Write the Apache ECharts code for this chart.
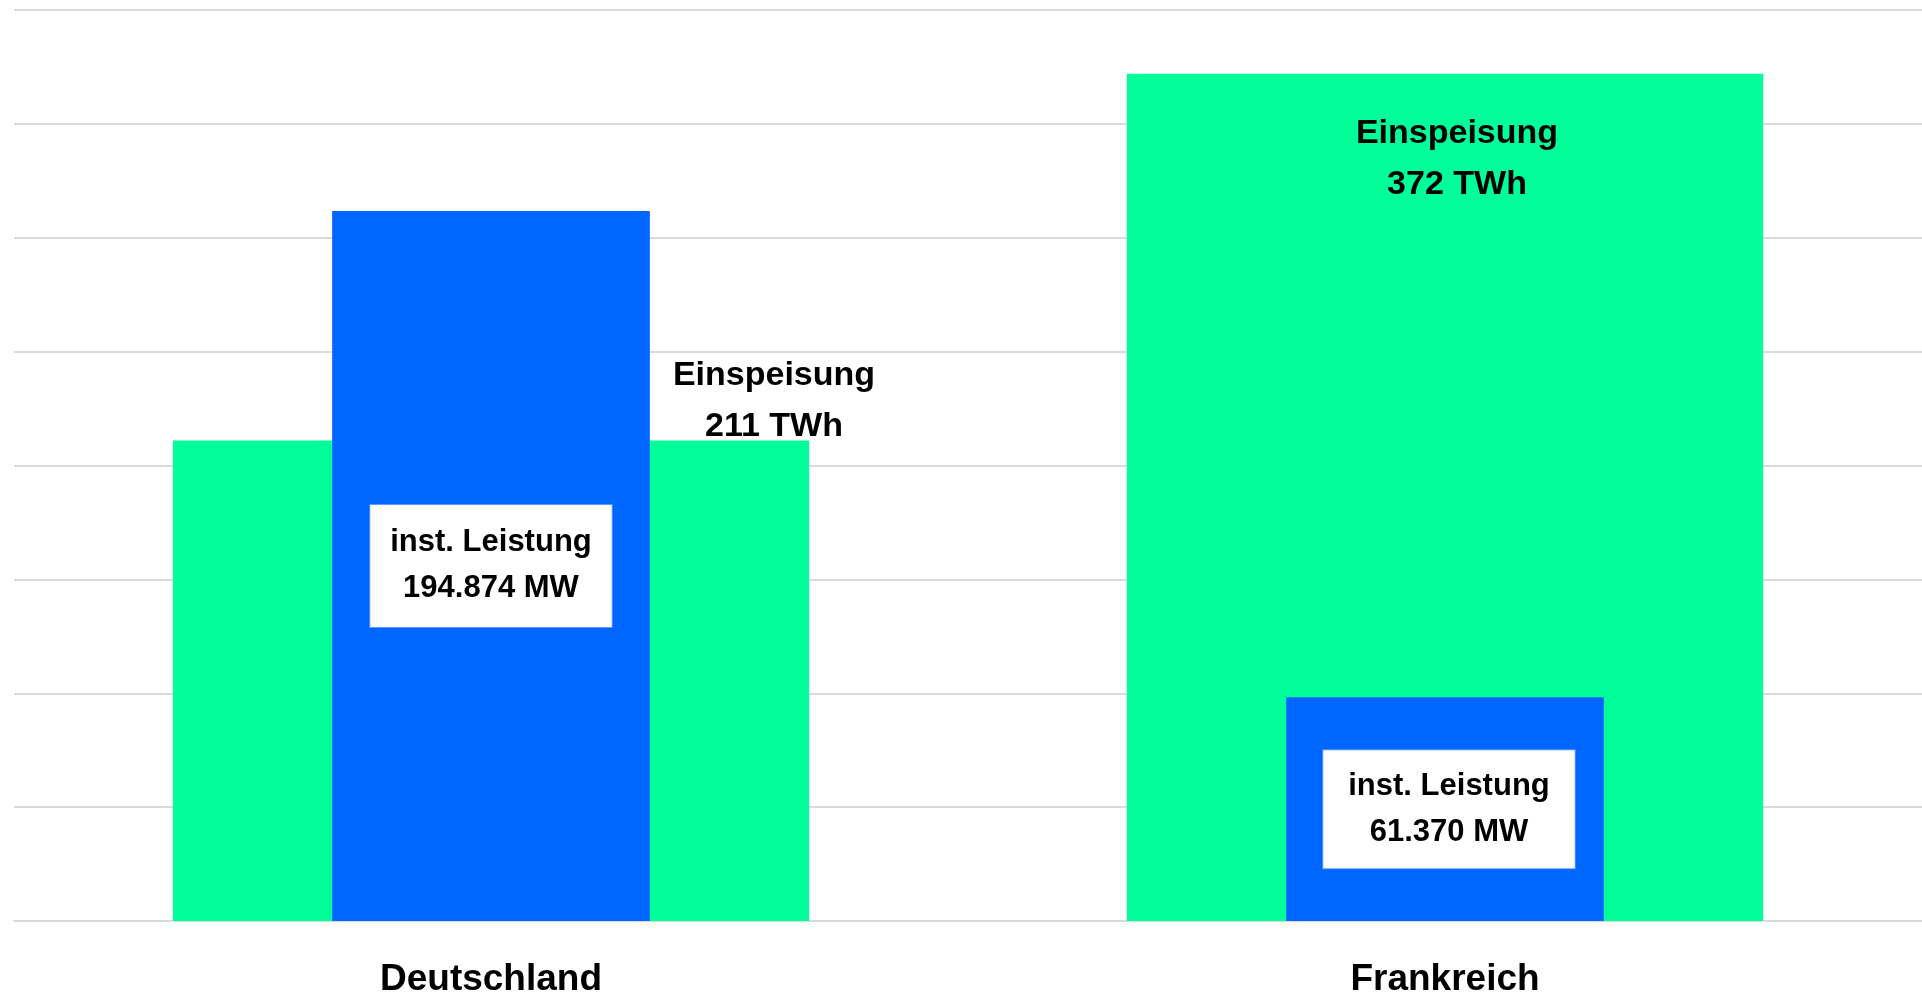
<!DOCTYPE html>
<html>
<head>
<meta charset="utf-8">
<script src="https://cdn.jsdelivr.net/npm/echarts@6/dist/echarts.min.js"></script>
<style>
    html, body { margin: 0; padding: 0; background: #fff; }
    #chart { width: 1922px; height: 995px; }
</style>
</head>
<body>
<div id="chart"></div>
<script>
    // Daten
    var countries = ['Deutschland', 'Frankreich'];
    var einspeisungTWh = [211, 372];        // grüne Balken
    var leistungMW = [194874, 61370];       // blaue Balken

    var fontFam = 'Liberation Sans, Arial, sans-serif';

    function fmtMW(v) {
        return String(v).replace(/\B(?=(\d{3})+(?!\d))/g, '.') + ' MW';
    }

    // Label-Position je Land (Deutschland rechts über dem Balken, Frankreich innen oben)
    var greenLabels = [
        { position: 'top', distance: 0, offset: [283, 12] },
        { position: 'insideTop', distance: 34, offset: [12, 0] }
    ];
    var blueLabels = [
        { offset: [0, 0], padding: [15, 20] },
        { offset: [4, 0], padding: [13, 25] }
    ];

    var greenData = einspeisungTWh.map(function (v, i) {
        return { value: v, label: greenLabels[i] };
    });
    var blueData = leistungMW.map(function (v, i) {
        return { value: v, label: blueLabels[i] };
    });

    var chart = echarts.init(document.getElementById('chart'));
    var option = {
        animation: false,
        grid: { left: 14, right: 0, top: 10, bottom: 74, containLabel: false, outerBoundsMode: 'none' },
        xAxis: [{
            type: 'category',
            data: countries,
            axisLine: { show: true, lineStyle: { color: '#d9d9d9', width: 2 } },
            axisTick: { show: false },
            axisLabel: {
                margin: 40,
                color: '#000',
                fontWeight: 'bold',
                fontSize: 37,
                fontFamily: fontFam
            }
        }, {
            type: 'category',
            data: countries,
            show: false
        }],
        yAxis: [{
            type: 'value',
            min: 0,
            max: 400,
            interval: 50,
            axisLabel: { show: false },
            axisLine: { show: false },
            axisTick: { show: false },
            splitLine: { lineStyle: { color: '#d9d9d9', width: 2 } }
        }, {
            type: 'value',
            min: 0,
            max: 250000,
            interval: 31250,
            show: false,
            splitLine: { show: false }
        }],
        series: [{
            name: 'Einspeisung',
            type: 'bar',
            xAxisIndex: 0,
            yAxisIndex: 0,
            barWidth: '66.7%',
            itemStyle: { color: '#00ff99' },
            data: greenData,
            label: {
                show: true,
                color: '#000',
                fontWeight: 'bold',
                fontSize: 34,
                lineHeight: 51,
                fontFamily: fontFam,
                formatter: function (p) {
                    return 'Einspeisung\n' + p.value + ' TWh';
                }
            }
        }, {
            name: 'inst. Leistung',
            type: 'bar',
            xAxisIndex: 1,
            yAxisIndex: 1,
            barWidth: '33.3%',
            itemStyle: { color: '#0066ff' },
            data: blueData,
            label: {
                show: true,
                position: 'inside',
                color: '#000',
                fontWeight: 'bold',
                fontSize: 31,
                lineHeight: 46,
                fontFamily: fontFam,
                backgroundColor: '#fff',
                borderColor: '#5a96ff',
                borderWidth: 1,
                formatter: function (p) {
                    return 'inst. Leistung\n' + fmtMW(p.value);
                }
            }
        }]
    };
    chart.setOption(option);
</script>
</body>
</html>
